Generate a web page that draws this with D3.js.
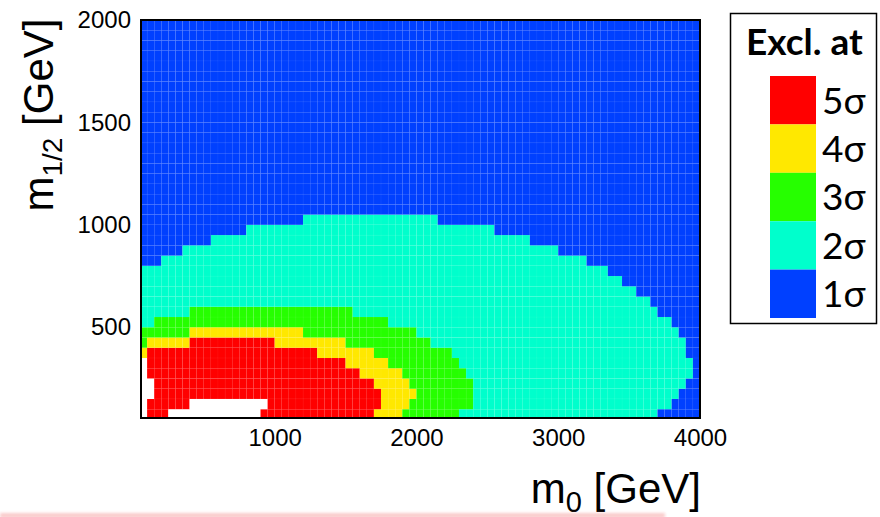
<!DOCTYPE html>
<html>
<head>
<meta charset="utf-8">
<script src="https://cdn.jsdelivr.net/npm/d3@7"></script>
<style>
  body { margin: 0; background: #fff; }
  svg { display: block; }
  .tick text { font-family: "Liberation Sans", Arial, sans-serif; font-size: 24px; fill: #000; }
  .axis-title { font-family: "Liberation Sans", Arial, sans-serif; font-size: 42px; fill: #000; }
  .legend-text { font-family: Lato, "Open Sans", sans-serif; fill: #000; }
</style>
</head>
<body>
<script>
// significance levels shown in the legend, top to bottom
var sigmaLevels = [5, 4, 3, 2, 1];
var sigmaLabels = ["5σ", "4σ", "3σ", "2σ", "1σ"];

var m0Ticks = [1000, 2000, 3000, 4000];
var m12Ticks = [500, 1000, 1500, 2000];

// grid is 50 GeV x 50 GeV, first m0 bin starts at 50
var binSize = 50;
var m0Start = 50;

// lower edge of each m1/2 row
var m12Rows = [50, 100, 150, 200, 250, 300, 350, 400, 450, 500,
               550, 600, 650, 700, 750, 800, 850, 900, 950, 1000,
               1050, 1100, 1150, 1200, 1250, 1300, 1350, 1400, 1450, 1500,
               1550, 1600, 1650, 1700, 1750, 1800, 1850, 1900, 1950];

// per row: [exclusion level, m0 where the run stops]; 0 = no point
var sigmaRuns = [
  [[0, 100], [5, 250], [0, 900], [5, 1700], [4, 1900], [3, 2300], [2, 3700], [1, 4000]],
  [[0, 100], [5, 400], [0, 950], [5, 1750], [4, 1950], [3, 2400], [2, 3800], [1, 4000]],
  [[0, 150], [5, 1750], [4, 2000], [3, 2400], [2, 3850], [1, 4000]],
  [[0, 150], [5, 1700], [4, 1950], [3, 2400], [2, 3900], [1, 4000]],
  [[0, 100], [5, 1600], [4, 1900], [3, 2350], [2, 3950], [1, 4000]],
  [[0, 100], [5, 1500], [4, 1800], [3, 2300], [2, 3950], [1, 4000]],
  [[4, 100], [5, 1300], [4, 1700], [3, 2250], [2, 3900], [1, 4000]],
  [[3, 100], [4, 400], [5, 1000], [4, 1500], [3, 2100], [2, 3900], [1, 4000]],
  [[3, 400], [4, 1200], [3, 2000], [2, 3850], [1, 4000]],
  [[2, 150], [3, 1800], [2, 3800], [1, 4000]],
  [[2, 400], [3, 1550], [2, 3700], [1, 4000]],
  [[2, 3650], [1, 4000]],
  [[2, 3550], [1, 4000]],
  [[2, 3450], [1, 4000]],
  [[2, 3350], [1, 4000]],
  [[1, 200], [2, 3200], [1, 4000]],
  [[1, 350], [2, 3000], [1, 4000]],
  [[1, 550], [2, 2800], [1, 4000]],
  [[1, 800], [2, 2550], [1, 4000]],
  [[1, 1200], [2, 2150], [1, 4000]],
  [[1, 4000]], [[1, 4000]], [[1, 4000]], [[1, 4000]], [[1, 4000]],
  [[1, 4000]], [[1, 4000]], [[1, 4000]], [[1, 4000]], [[1, 4000]],
  [[1, 4000]], [[1, 4000]], [[1, 4000]], [[1, 4000]], [[1, 4000]],
  [[1, 4000]], [[1, 4000]], [[1, 4000]], [[1, 4000]]
];

var width = 880, height = 517;
var plot = { left: 141, right: 700, top: 20, bottom: 418 };

var color = d3.scaleOrdinal()
  .domain([0, 1, 2, 3, 4, 5])
  .range(["#ffffff", "#0040ff", "#00ffcc", "#26ff00", "#ffe800", "#ff0000"]);

var x = d3.scaleLinear().domain([57, 4000]).range([plot.left, plot.right]);
var y = d3.scaleLinear().domain([57, 2000]).range([plot.bottom, plot.top]);

var svg = d3.select("body")
  .append("svg")
    .attr("width", width)
    .attr("height", height);

var defs = svg.append("defs");
defs.append("clipPath")
    .attr("id", "plot-clip")
  .append("rect")
    .attr("x", plot.left)
    .attr("y", plot.top)
    .attr("width", plot.right - plot.left)
    .attr("height", plot.bottom - plot.top);
defs.append("filter")
    .attr("id", "soft")
    .attr("x", "-5%").attr("y", "-200%")
    .attr("width", "110%").attr("height", "500%")
  .append("feGaussianBlur")
    .attr("stdDeviation", 1.6);

// unpack the runs into single bins
var cells = [];
m12Rows.forEach(function(m12, i) {
  var start = m0Start;
  sigmaRuns[i].forEach(function(run) {
    for (var m0 = start; m0 < run[1]; m0 += binSize) {
      cells.push({ m0: m0, m12: m12, level: run[0] });
    }
    start = run[1];
  });
});

svg.append("g")
    .attr("clip-path", "url(#plot-clip)")
  .selectAll("rect")
  .data(cells)
  .enter().append("rect")
    .attr("x", function(d) { return x(d.m0); })
    .attr("y", function(d) { return y(d.m12 + binSize); })
    .attr("width", function(d) { return x(d.m0 + binSize) - x(d.m0); })
    .attr("height", function(d) { return y(d.m12) - y(d.m12 + binSize); })
    .style("fill", function(d) { return color(d.level); })
    .style("stroke", "#ffffff")
    .style("stroke-opacity", 0.05)
    .style("stroke-width", 0.5);

// frame
svg.append("rect")
    .attr("x", plot.left)
    .attr("y", plot.top)
    .attr("width", plot.right - plot.left)
    .attr("height", plot.bottom - plot.top)
    .style("fill", "none")
    .style("stroke", "#000")
    .style("stroke-width", 2);

var xAxis = svg.append("g")
    .attr("transform", "translate(0," + plot.bottom + ")")
    .call(d3.axisBottom(x).tickValues(m0Ticks).tickFormat(d3.format("d"))
      .tickSize(0).tickPadding(11));
xAxis.select(".domain").remove();

var yAxis = svg.append("g")
    .attr("transform", "translate(" + plot.left + ",0)")
    .call(d3.axisLeft(y).tickValues(m12Ticks).tickFormat(d3.format("d"))
      .tickSize(0).tickPadding(10));
yAxis.select(".domain").remove();

// axis titles
var xTitle = svg.append("text")
    .attr("class", "axis-title")
    .attr("x", 701)
    .attr("y", 503)
    .attr("text-anchor", "end");
xTitle.append("tspan").text("m");
xTitle.append("tspan").attr("dy", 9).style("font-size", "29px").text("0");
xTitle.append("tspan").attr("dy", -9).text(" [GeV]");

var yTitle = svg.append("text")
    .attr("class", "axis-title")
    .attr("transform", "translate(53,115) rotate(-90)")
    .attr("text-anchor", "middle");
yTitle.append("tspan").text("m");
yTitle.append("tspan").attr("dy", 9).style("font-size", "28px").text("1/2");
yTitle.append("tspan").attr("dy", -9).text(" [GeV]");

// legend
var legend = svg.append("g");
legend.append("rect")
    .attr("x", 730.5)
    .attr("y", 13.5)
    .attr("width", 146)
    .attr("height", 310)
    .style("fill", "#fff")
    .style("stroke", "#000")
    .style("stroke-width", 1.5);

legend.append("text")
    .attr("class", "legend-text")
    .attr("x", 746)
    .attr("y", 55)
    .style("font-size", "37px")
    .style("font-weight", "bold")
    .text("Excl. at");

var key = d3.scaleBand().domain(sigmaLevels).range([76, 318]);

legend.selectAll(".swatch")
  .data(sigmaLevels)
  .enter().append("rect")
    .attr("class", "swatch")
    .attr("x", 770)
    .attr("y", function(d) { return key(d); })
    .attr("width", 46)
    .attr("height", key.bandwidth())
    .style("fill", function(d) { return color(d); });

legend.selectAll(".key-label")
  .data(sigmaLevels)
  .enter().append("text")
    .attr("class", "legend-text key-label")
    .attr("x", 822)
    .attr("y", function(d) { return key(d) + key.bandwidth() / 2; })
    .attr("dy", "0.36em")
    .style("font-size", "37px")
    .text(function(d, i) { return sigmaLabels[i]; });

// faint pink streak along the bottom edge
svg.append("rect")
    .attr("x", 0)
    .attr("y", 513)
    .attr("width", 665)
    .attr("height", 5)
    .style("fill", "#f6a8a8")
    .style("opacity", 0.6)
    .attr("filter", "url(#soft)");
</script>
</body>
</html>
